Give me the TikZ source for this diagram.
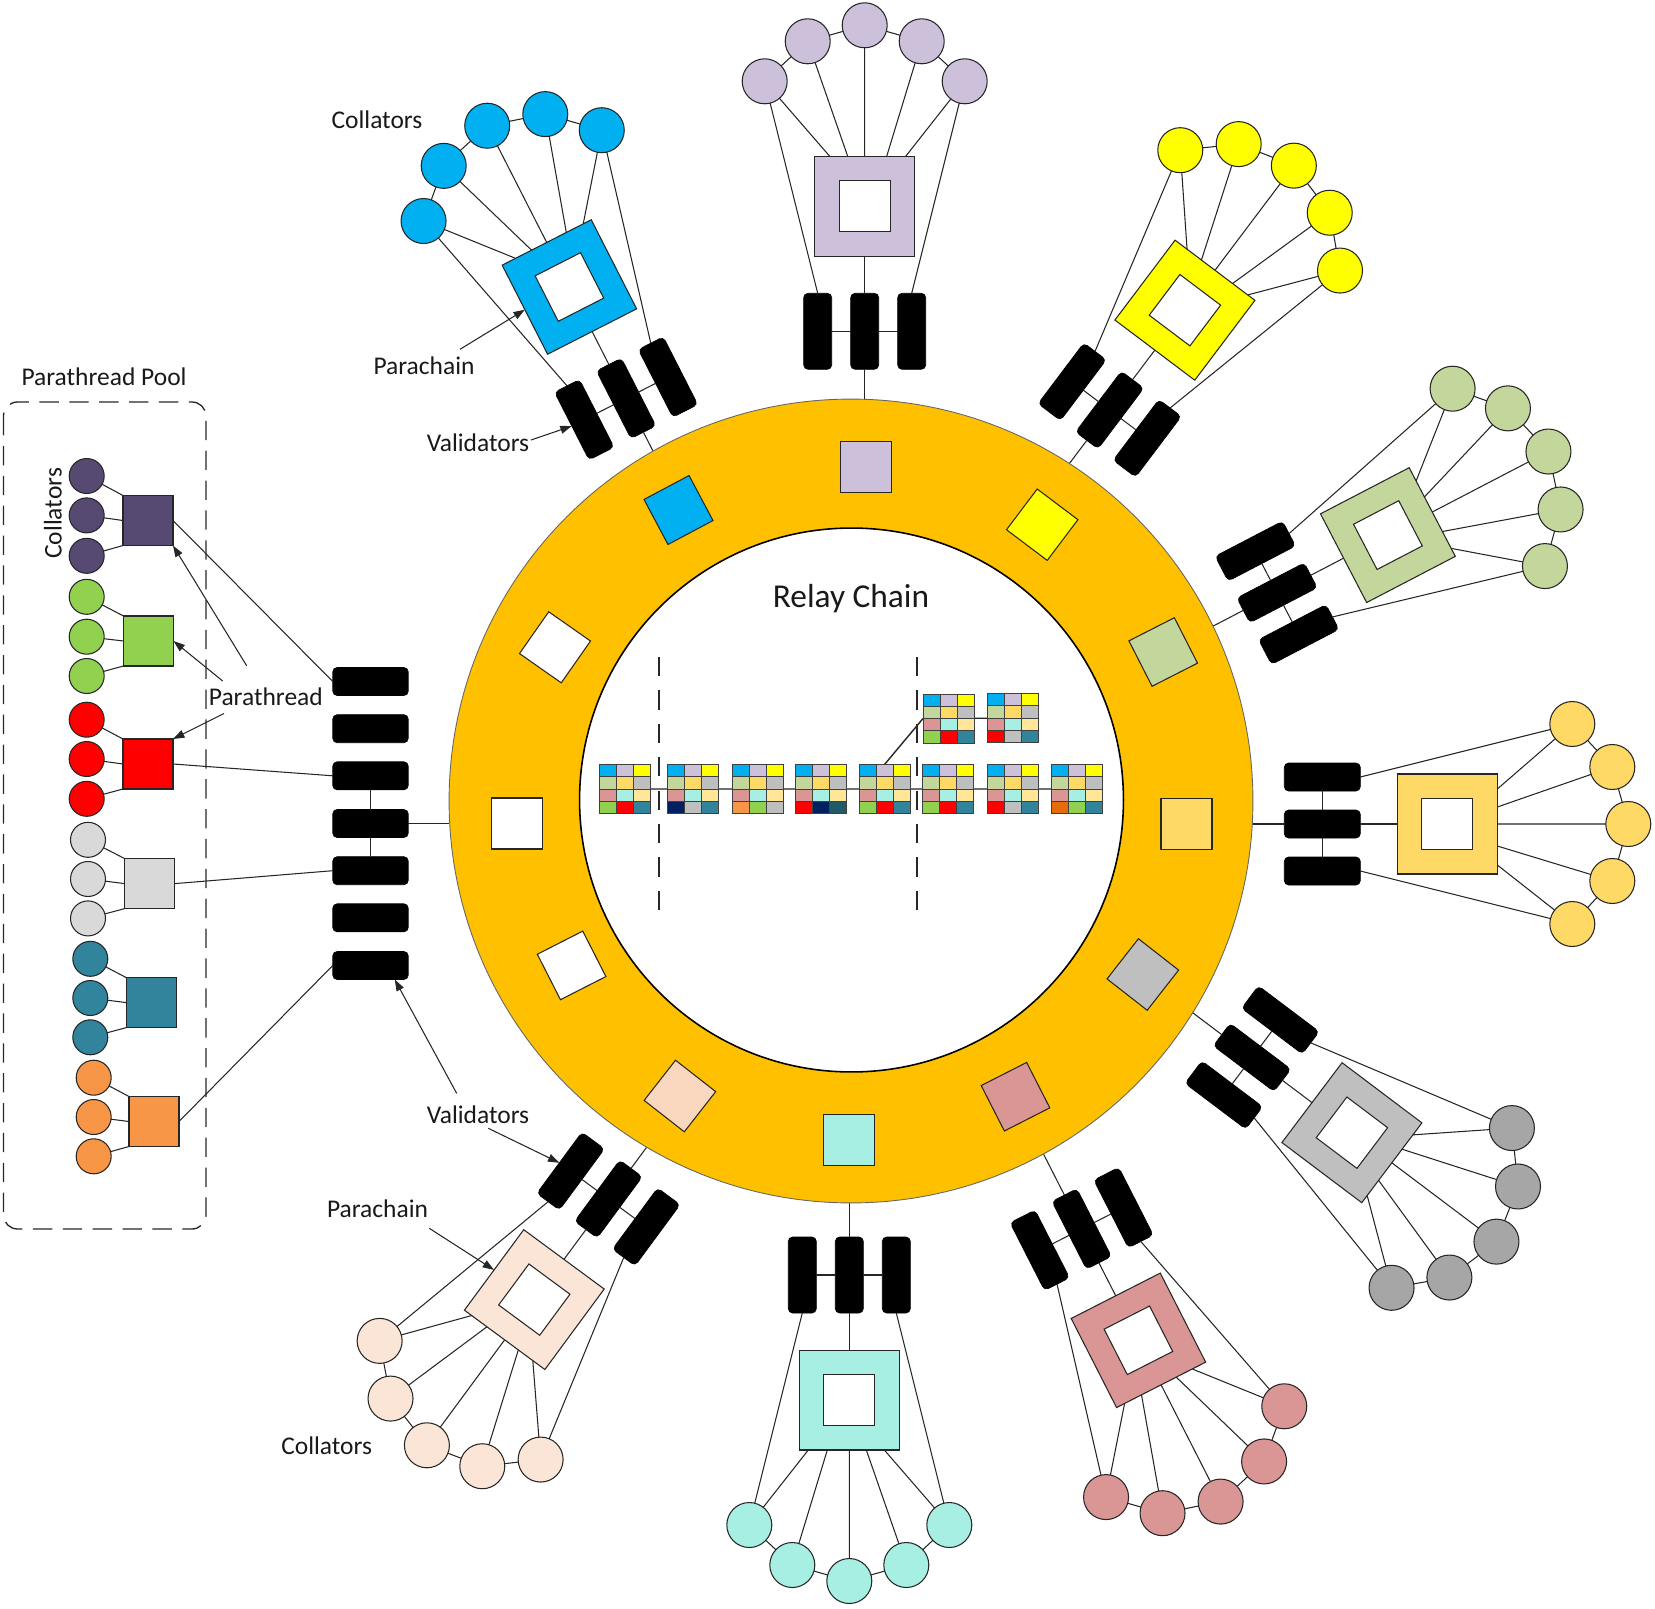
\documentclass[tikz,border=0pt]{standalone}
\usepackage{fontspec}
\setmainfont{Carlito}
\usetikzlibrary{arrows.meta,calc}
\definecolor{cGold}{HTML}{FFC000}
\definecolor{cBlu}{HTML}{00B0F0}
\definecolor{cLil}{HTML}{CCC0DA}
\definecolor{cYel}{HTML}{FFFF00}
\definecolor{cGrn}{HTML}{C3D69B}
\definecolor{cOrg}{HTML}{FFD966}
\definecolor{cGry}{HTML}{BFBFBF}
\definecolor{cGryD}{HTML}{A6A6A6}
\definecolor{cPnk}{HTML}{D99694}
\definecolor{cCyn}{HTML}{A6EFE2}
\definecolor{cPch}{HTML}{FBE5D6}
\definecolor{cPchR}{HTML}{F9D7BE}
\definecolor{cLYel}{HTML}{FFE699}
\definecolor{cGrnB}{HTML}{92D050}
\definecolor{cRed}{HTML}{FF0000}
\definecolor{cTeal}{HTML}{31849B}
\definecolor{cNavy}{HTML}{002060}
\definecolor{cDTeal}{HTML}{215967}
\definecolor{cOrn}{HTML}{F79646}
\definecolor{cDOrn}{HTML}{E46C0A}
\definecolor{cPur}{HTML}{564A72}
\definecolor{cLGry}{HTML}{D9D9D9}
\definecolor{cLine}{HTML}{262626}
\tikzset{
 ln/.style={draw=cLine, line width=0.6pt},
 outsq/.style={draw=cLine, line width=0.6pt, rectangle, minimum size=2cm, inner sep=0pt, outer sep=0pt, transform shape},
 insq/.style={draw=cLine, line width=0.6pt, fill=white, rectangle, minimum size=1.02cm, inner sep=0pt, outer sep=0pt, transform shape},
 coll/.style={draw=cLine, line width=0.6pt, circle, minimum size=0.9cm, inner sep=0pt, outer sep=0pt},
 val/.style={draw=black, fill=black, rectangle, rounded corners=2.5pt, minimum width=0.56cm, minimum height=1.52cm, inner sep=0pt, outer sep=0pt, transform shape},
 valh/.style={val, minimum width=1.51cm, minimum height=0.56cm},
 rsq/.style={draw=cLine, line width=0.6pt, rectangle, minimum size=1.02cm, inner sep=0pt, outer sep=0pt},
 pcol/.style={coll, minimum size=0.7cm},
 psq/.style={rsq, minimum size=1cm},
 blk/.style={rectangle, minimum width=1.02cm, minimum height=0.98cm, inner sep=0pt, outer sep=0pt},
 cell/.style={draw=black!75, line width=0.45pt},
 lbl/.style={font=\fontsize{14.5pt}{17pt}\selectfont, inner sep=0pt, anchor=base, text=black!90},
 arr/.style={ln, -{Triangle[length=6.5pt,width=4.5pt]}},
 ringo/.style={circle, minimum size=16.08cm, fill=cGold, draw=black!60, line width=0.5pt, inner sep=0pt, outer sep=0pt},
 ringi/.style={circle, minimum size=10.88cm, fill=white, draw=black, line width=0.9pt, inner sep=0pt, outer sep=0pt},
}
\newcommand\parachain[5]{%
\begin{scope}[shift={#2},rotate=#3]
 \node[outsq,fill=#4] (#1sq) at (0,0) {};
 \node[insq] (#1in) at (0,0) {};
 \node[coll,fill=#5] (#1c1) at (-100,-125) {};
 \node[coll,fill=#5] (#1c2) at (-57,-165) {};
 \node[coll,fill=#5] (#1c3) at (0,-181) {};
 \node[coll,fill=#5] (#1c4) at (57,-165) {};
 \node[coll,fill=#5] (#1c5) at (100,-125) {};
 \node[val] (#1v1) at (-47,125) {};
 \node[val] (#1v2) at (0,125) {};
 \node[val] (#1v3) at (47,125) {};
 \coordinate (#1t1) at (-35,-50);
 \coordinate (#1t2) at (-17,-50);
 \coordinate (#1t3) at (0,-50);
 \coordinate (#1t4) at (22,-50);
 \coordinate (#1t5) at (41,-50);
 \coordinate (#1r) at (0,240);
 \draw[ln] (#1c1)--(#1c2) (#1c2)--(#1c3) (#1c3)--(#1c4) (#1c4)--(#1c5);
 \draw[ln] (#1c1)--(#1t1) (#1c2)--(#1t2) (#1c3)--(#1t3) (#1c4)--(#1t4) (#1c5)--(#1t5);
 \draw[ln] (#1c1)--(#1v1.north) (#1c5)--(#1v3.north);
 \draw[ln] (#1sq.south)--(#1v2.north) (#1v1)--(#1v2) (#1v2)--(#1v3) (#1v2.south)--(#1r);
\end{scope}}
\newcommand\blockcells[4]{%
 \begin{scope}[shift={(#1.north west)}]
  \foreach \cc [count=\i from 0] in {cBlu,cLil,cYel}{\filldraw[cell,fill=\cc] (\i*17,0) rectangle ++(17,12.25);}
  \foreach \cc [count=\i from 0] in {cGrn,cOrg,cGry}{\filldraw[cell,fill=\cc] (\i*17,12.25) rectangle ++(17,12.25);}
  \foreach \cc [count=\i from 0] in {cPnk,cCyn,cLYel}{\filldraw[cell,fill=\cc] (\i*17,24.5) rectangle ++(17,12.25);}
  \foreach \cc [count=\i from 0] in {#2,#3,#4}{\filldraw[cell,fill=\cc] (\i*17,36.75) rectangle ++(17,12.25);}
 \end{scope}}
\begin{document}
\begin{tikzpicture}[x=0.02cm,y=-0.02cm]
\useasboundingbox (0,0) rectangle (1655,1608);
% parachains
\parachain{blu}{(569.4,287)}{27}{cBlu}{cBlu}
\parachain{lil}{(864.7,206.3)}{0}{cLil}{cLil}
\parachain{yel}{(1184.9,310.2)}{-37}{cYel}{cYel}
\parachain{grn}{(1387.9,535.1)}{-62.5}{cGrn}{cGrn}
\parachain{org}{(1447.3,824)}{-90}{cOrg}{cOrg}
\parachain{gry}{(1351.9,1132.7)}{-127}{cGry}{cGryD}
\parachain{pnk}{(1138.4,1340.3)}{-153}{cPnk}{cPnk}
\parachain{cyn}{(849.3,1400)}{180}{cCyn}{cCyn}
\parachain{pch}{(534.3,1299.6)}{143.6}{cPch}{cPch}
% ring
\node[ringo] (ring) at (851,801) {};
\node[ringi] (inner) at (851.5,800) {};
% ring squares
\node[rsq,fill=cLil] (rlil) at (866,467) {};
\node[rsq,fill=cBlu,rotate=28] (rblu) at (678.5,510) {};
\node[rsq,fill=cYel,rotate=-37] (ryel) at (1042.2,524.7) {};
\node[rsq,fill=cGrn,rotate=27] (rgrn) at (1163.2,652) {};
\node[rsq,fill=cOrg] (rorg) at (1186.5,824) {};
\node[rsq,fill=cGry,rotate=-38] (rgry) at (1142.8,974.5) {};
\node[rsq,fill=cPnk,rotate=27] (rpnk) at (1015.5,1096.7) {};
\node[rsq,fill=cCyn] (rcyn) at (848.7,1139.6) {};
\node[rsq,fill=cPchR,rotate=-38] (rpch) at (679.9,1096) {};
\node[rsq,fill=white,rotate=27] (rw1) at (571.6,965.4) {};
\node[rsq,fill=white] (rw2) at (517,823.5) {};
\node[rsq,fill=white,rotate=-35] (rw3) at (555,647.3) {};
% relay chain blocks
\node[font=\fontsize{19pt}{23pt}\selectfont, inner sep=0pt, anchor=base, text=black!90] (relay) at (851,607) {Relay Chain};
\node[blk] (b1) at (624.5,789) {};
\node[blk] (b2) at (692.5,789) {};
\node[blk] (b3) at (757.5,789) {};
\node[blk] (b4) at (820.8,789) {};
\node[blk] (b5) at (884.5,789) {};
\node[blk] (b6) at (948.2,789) {};
\node[blk] (b7) at (1013.2,789) {};
\node[blk] (b8) at (1076.5,789) {};
\node[blk] (u1) at (948.5,718.5) {};
\node[blk] (u2) at (1012.7,718) {};
\draw[draw=cLine, line width=0.8pt] (b1)--(b2) (b2)--(b3) (b3)--(b4) (b4)--(b5) (b5)--(b6) (b6)--(b7) (b7)--(b8) (b5.north)--(u1.west) (u1)--(u2);
\blockcells{b1}{cGrnB}{cRed}{cTeal}
\blockcells{b2}{cNavy}{cGry}{cTeal}
\blockcells{b3}{cOrn}{cGrnB}{cGry}
\blockcells{b4}{cRed}{cNavy}{cDTeal}
\blockcells{b5}{cGrnB}{cRed}{cTeal}
\blockcells{b6}{cGrnB}{cRed}{cTeal}
\blockcells{b7}{cRed}{cGry}{cTeal}
\blockcells{b8}{cDOrn}{cGrnB}{cTeal}
\blockcells{u1}{cGrnB}{cRed}{cTeal}
\blockcells{u2}{cRed}{cGry}{cTeal}
\draw[ln, line width=0.8pt, dash pattern=on 11pt off 8pt] (659,657) -- (659,917);
\draw[ln, line width=0.8pt, dash pattern=on 11pt off 8pt] (917,657) -- (917,917);
% parathread pool
\draw[ln, line width=0.75pt, dash pattern=on 11pt off 6pt, rounded corners=8pt] (3.5,402) rectangle (206,1229);
\node[pcol,fill=cPur] (pc1) at (86.7,476) {};
\node[pcol,fill=cPur] (pc2) at (86.7,515.4) {};
\node[pcol,fill=cPur] (pc3) at (86.7,555.8) {};
\node[pcol,fill=cGrnB] (pc4) at (86.7,596.8) {};
\node[pcol,fill=cGrnB] (pc5) at (86.7,636.7) {};
\node[pcol,fill=cGrnB] (pc6) at (86.7,676) {};
\node[pcol,fill=cRed] (pc7) at (86.7,719.7) {};
\node[pcol,fill=cRed] (pc8) at (86.7,759) {};
\node[pcol,fill=cRed] (pc9) at (86.7,798.8) {};
\node[pcol,fill=cLGry] (pc10) at (88,839.8) {};
\node[pcol,fill=cLGry] (pc11) at (88,879) {};
\node[pcol,fill=cLGry] (pc12) at (88,918.4) {};
\node[pcol,fill=cTeal] (pc13) at (90.3,958.8) {};
\node[pcol,fill=cTeal] (pc14) at (90.3,998) {};
\node[pcol,fill=cTeal] (pc15) at (90.3,1037.3) {};
\node[pcol,fill=cOrn] (pc16) at (93.7,1077.7) {};
\node[pcol,fill=cOrn] (pc17) at (93.7,1117) {};
\node[pcol,fill=cOrn] (pc18) at (93.7,1156.3) {};
\node[psq,fill=cPur] (ps1) at (148,520.5) {};
\node[psq,fill=cGrnB] (ps2) at (148.5,641) {};
\node[psq,fill=cRed] (ps3) at (148,764) {};
\node[psq,fill=cLGry] (ps4) at (149.7,883.6) {};
\node[psq,fill=cTeal] (ps5) at (151.3,1002.6) {};
\node[psq,fill=cOrn] (ps6) at (154,1121.5) {};
\foreach \k/\a/\b/\c in {1/1/2/3,2/4/5/6,3/7/8/9,4/10/11/12,5/13/14/15,6/16/17/18}
  \draw[ln] (pc\a)--(ps\k.north west) (pc\b)--(ps\k.west) (pc\c)--(ps\k.south west);
\foreach \k/\yy in {1/681.5,2/728.7,3/775.8,4/823.5,5/870.7,6/917.8,7/965.5}
  \node[valh] (pv\k) at (370.5,\yy) {};
\draw[ln] (ps1.east)--(pv1.west) (ps3.east)--(pv3.west) (ps4.east)--(pv5.west) (ps6.east)--(pv7.west);
\draw[ln] (pv3)--(pv4) (pv4)--(pv5) (pv4.east)--(pv4.east -| ring.west);
% labels
\node[lbl] (colA) at (377,128.5) {Collators};
\node[lbl] (parA) at (424,374) {Parachain};
\node[lbl] (valA) at (478,451) {Validators};
\node[lbl] (pool) at (104,385) {Parathread Pool};
\node[lbl,rotate=90] (colP) at (61.5,513.4) {Collators};
\node[lbl] (pthr) at (265.8,705) {Parathread};
\node[lbl] (valB) at (478,1123.5) {Validators};
\node[lbl] (parB) at (377.5,1217.5) {Parachain};
\node[lbl] (colB) at (326.7,1454.3) {Collators};
% arrows
\coordinate (aParA) at (460,349.3);
\coordinate (aValA) at (531,440);
\coordinate (aPt1) at (246.7,665.8);
\coordinate (aPt2) at (222.7,681);
\coordinate (aPt3) at (224,713.5);
\coordinate (aValB1) at (456.7,1093.4);
\coordinate (aValB2) at (488.3,1128.3);
\coordinate (aParB) at (429.3,1228.3);
\draw[arr] (aParA) -- (blusq.west);
\draw[arr] (aValA) -- (bluv1.west);
\draw[arr] (aPt1) -- (ps1.south east);
\draw[arr] (aPt2) -- (ps2.east);
\draw[arr] (aPt3) -- (ps3.north east);
\draw[arr] (aValB1) -- (pv7.-30);
\draw[arr] (aValB2) -- (pchv3.east);
\draw[arr] (aParB) -- (pchsq.east);
\end{tikzpicture}
\end{document}
